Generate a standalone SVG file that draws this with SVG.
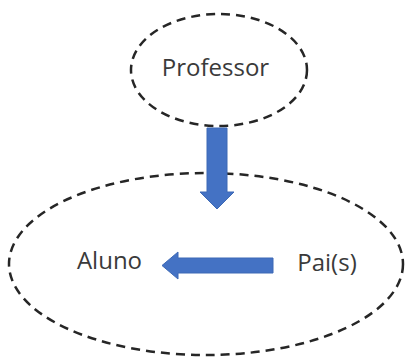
<svg xmlns="http://www.w3.org/2000/svg" width="406" height="360" viewBox="0 0 406 360">
<style>
.node{fill:none;stroke:#262626;stroke-width:2.5;stroke-dasharray:9 6}
.lbl{font-family:"Open Sans","Liberation Sans",sans-serif;font-size:24px;fill:#3a3a3a}
.arr{fill:#4472C4;stroke:#3d69b5;stroke-width:1}
</style>
<rect width="406" height="360" fill="#ffffff"/>
<g id="professor">
<ellipse class="node" cx="219" cy="70" rx="88" ry="56"/>
<text class="lbl" x="215.5" y="76" text-anchor="middle">Professor</text>
</g>
<g id="contexto">
<ellipse class="node" cx="206" cy="264" rx="197" ry="91"/>
</g>
<g id="aluno">
<text class="lbl" x="109.5" y="269" text-anchor="middle">Aluno</text>
</g>
<g id="pais">
<text class="lbl" x="327" y="271" text-anchor="middle">Pai(s)</text>
</g>
<g id="connectors">
<polygon class="arr" points="207,128 227,128 227,192 234,192 217,209 200,192 207,192"/>
<polygon class="arr" points="273,258 273,273 178,273 178,279 162,265.5 178,252 178,258"/>
</g>
</svg>
